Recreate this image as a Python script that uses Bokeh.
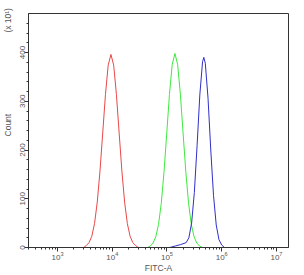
from bokeh.plotting import figure
from bokeh.models import FixedTicker, LogTicker, LinearAxis
from bokeh.embed import file_html
from bokeh.resources import INLINE

# FITC-A intensity (x) and count (x10) for each histogram
red_x = [2992, 3357, 3767, 4227, 4742, 5321, 5970, 6699, 7516, 8433, 9462,
         10617, 11912, 13366, 14997, 16827, 18880, 21184, 23768, 26669, 29923]
red_y = [0, 4, 10, 23, 49, 93, 157, 235, 314, 374, 396,
         374, 314, 235, 157, 93, 49, 23, 10, 4, 0]

green_x = [44157, 49545, 55590, 62373, 69984, 78524, 88105, 98855, 110917, 124451, 139637,
           156675, 175792, 197242, 221309, 248313, 278612, 312608, 350752, 393550, 441570]
green_y = [0, 3, 9, 22, 47, 90, 154, 233, 314, 375, 398,
           375, 314, 233, 154, 90, 47, 22, 9, 3, 0]

blue_x = [112202, 141254, 177828, 223872, 251189, 281838, 316228, 354813, 398107, 446684,
          470977, 501187, 562341, 630957, 707946, 794328, 891251, 1000000, 1122018]
blue_y = [0, 3, 6, 10, 20, 50, 113, 209, 313, 381,
          390, 378, 306, 200, 107, 46, 16, 5, 0]

y_major = [0, 100, 200, 300, 400]
y_minor = [20, 40, 60, 80, 120, 140, 160, 180, 220, 240, 260, 280, 320, 340, 360, 380, 420, 440, 460]

y_title = "Count"
y_unit = "(x 10\u00b9)"
x_title = "FITC-A"

FONT = "Liberation Sans"
GRAY = "#555555"
AX = "#333333"

p = figure(width=304, height=275, x_axis_type="log",
           x_range=(295, 16600000), y_range=(0, 480),
           output_backend="svg", toolbar_location=None,
           min_border_left=28, min_border_right=16, min_border_top=13, min_border_bottom=27)
p.grid.visible = False
p.outline_line_color = AX
p.outline_line_width = 1
p.background_fill_color = "white"
p.border_fill_color = "white"

p.line(red_x, red_y, line_color="#e84848", line_width=1)
p.line(green_x, green_y, line_color="#3ee83e", line_width=1)
p.line(blue_x, blue_y, line_color="#3030c8", line_width=1)

xa = p.xaxis[0]
xa.ticker = LogTicker(num_minor_ticks=10)
xa.axis_label = x_title
ya = p.yaxis[0]
ya.ticker = FixedTicker(ticks=y_major, minor_ticks=y_minor)
ya.major_label_orientation = "vertical"

for ax in (xa, ya):
    ax.axis_line_color = AX
    ax.major_tick_line_color = AX
    ax.minor_tick_line_color = AX
    ax.major_tick_out = 4
    ax.major_tick_in = 0
    ax.minor_tick_out = 2
    ax.minor_tick_in = 0
    ax.major_label_text_font = FONT
    ax.major_label_text_font_size = "8px"
    ax.major_label_text_color = GRAY
    ax.axis_label_text_font = FONT
    ax.axis_label_text_font_size = "8.5px"
    ax.axis_label_text_font_style = "normal"
    ax.axis_label_text_color = GRAY
    ax.major_label_standoff = 0
    ax.axis_label_standoff = 0

# outer left column: axis title and unit multiplier
ya2 = LinearAxis(ticker=FixedTicker(ticks=[251, 466]),
                 major_label_overrides={251: y_title, 466: y_unit},
                 major_label_orientation="vertical",
                 axis_line_color=None, major_tick_line_color=None,
                 minor_tick_line_color=None, major_tick_out=0, major_tick_in=0,
                 major_label_standoff=3,
                 major_label_text_font=FONT, major_label_text_font_size="8.5px",
                 major_label_text_color=GRAY)
p.add_layout(ya2, "left")

open("out.html", "w").write(file_html(p, INLINE))
